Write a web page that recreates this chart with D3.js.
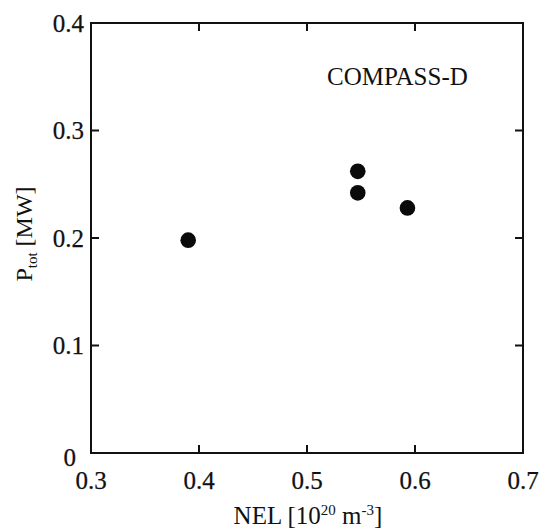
<!DOCTYPE html>
<html>
<head>
<meta charset="utf-8">
<script src="https://cdn.jsdelivr.net/npm/d3@7"></script>
<style>
  html, body { margin: 0; padding: 0; background: #fff; }
  svg text { font-family: "Liberation Serif", "DejaVu Serif", serif; fill: #111; }
</style>
</head>
<body>
<div id="chart"></div>
<script>
// data
const nel = [0.390, 0.547, 0.547, 0.593];
const ptot = [0.198, 0.262, 0.242, 0.228];
const xTicks = [0.3, 0.4, 0.5, 0.6, 0.7];
const yTicks = [0, 0.1, 0.2, 0.3, 0.4];
const xTickLabels = ['0.3', '0.4', '0.5', '0.6', '0.7'];
const yTickLabels = ['0', '0.1', '0.2', '0.3', '0.4'];

const width = 546, height = 532;
const plotL = 91, plotR = 523, plotT = 23, plotB = 453;
const tickLen = 8;

const svg = d3.select('#chart').append('svg')
  .attr('width', width).attr('height', height);

const x = d3.scaleLinear().domain([0.3, 0.7]).range([plotL, plotR]);
const y = d3.scaleLinear().domain([0, 0.4]).range([plotB, plotT]);

// inward ticks on all four sides
const tickG = svg.append('g').attr('stroke', '#111').attr('stroke-width', 2);
xTicks.slice(1, -1).forEach(t => {
  tickG.append('line').attr('x1', x(t)).attr('x2', x(t)).attr('y1', plotB).attr('y2', plotB - tickLen);
  tickG.append('line').attr('x1', x(t)).attr('x2', x(t)).attr('y1', plotT).attr('y2', plotT + tickLen);
});
yTicks.slice(1, -1).forEach(t => {
  tickG.append('line').attr('x1', plotL).attr('x2', plotL + tickLen).attr('y1', y(t)).attr('y2', y(t));
  tickG.append('line').attr('x1', plotR).attr('x2', plotR - tickLen).attr('y1', y(t)).attr('y2', y(t));
});

svg.append('rect')
  .attr('x', plotL).attr('y', plotT)
  .attr('width', plotR - plotL).attr('height', plotB - plotT)
  .attr('fill', 'none').attr('stroke', '#111').attr('stroke-width', 2);

// tick labels
svg.append('g').selectAll('text')
  .data(xTicks)
  .join('text')
  .attr('x', d => x(d))
  .attr('y', 489)
  .attr('text-anchor', 'middle')
  .attr('font-size', 25)
  .attr('stroke', '#111').attr('stroke-width', 0.25)
  .text((d, i) => xTickLabels[i]);

// the "0" sits below the corner, the rest are centred on their ticks
svg.append('g').selectAll('text')
  .data(yTicks)
  .join('text')
  .attr('x', d => d === 0 ? 76 : plotL - 7)
  .attr('y', d => d === 0 ? 457 : y(d))
  .attr('dy', '0.35em')
  .attr('text-anchor', 'end')
  .attr('font-size', 25)
  .attr('stroke', '#111').attr('stroke-width', 0.25)
  .text((d, i) => yTickLabels[i]);

// points
svg.append('g').selectAll('circle')
  .data(nel)
  .join('circle')
  .attr('cx', d => x(d))
  .attr('cy', (d, i) => y(ptot[i]))
  .attr('r', 7.8)
  .attr('fill', '#0a0a0a');

// label inside plot
svg.append('text')
  .attr('x', 327).attr('y', 85)
  .attr('font-size', 25)
  .text('COMPASS-D');

// axis titles
const xt = svg.append('text')
  .attr('x', (plotL + plotR) / 2 + 1).attr('y', 524)
  .attr('text-anchor', 'middle')
  .attr('font-size', 25);
xt.append('tspan').text('NEL [10');
xt.append('tspan').attr('font-size', 15).attr('dy', -9).text('20');
xt.append('tspan').attr('dy', 9).text(' m');
xt.append('tspan').attr('font-size', 15).attr('dy', -9).text('-3');
xt.append('tspan').attr('dy', 9).text(']');

const yt = svg.append('text')
  .attr('transform', 'translate(32,234) rotate(-90)')
  .attr('text-anchor', 'middle')
  .attr('font-size', 24);
yt.append('tspan').text('P');
yt.append('tspan').attr('font-size', 15).attr('dy', 5).text('tot');
yt.append('tspan').attr('dy', -5).text(' [MW]');
</script>
</body>
</html>
